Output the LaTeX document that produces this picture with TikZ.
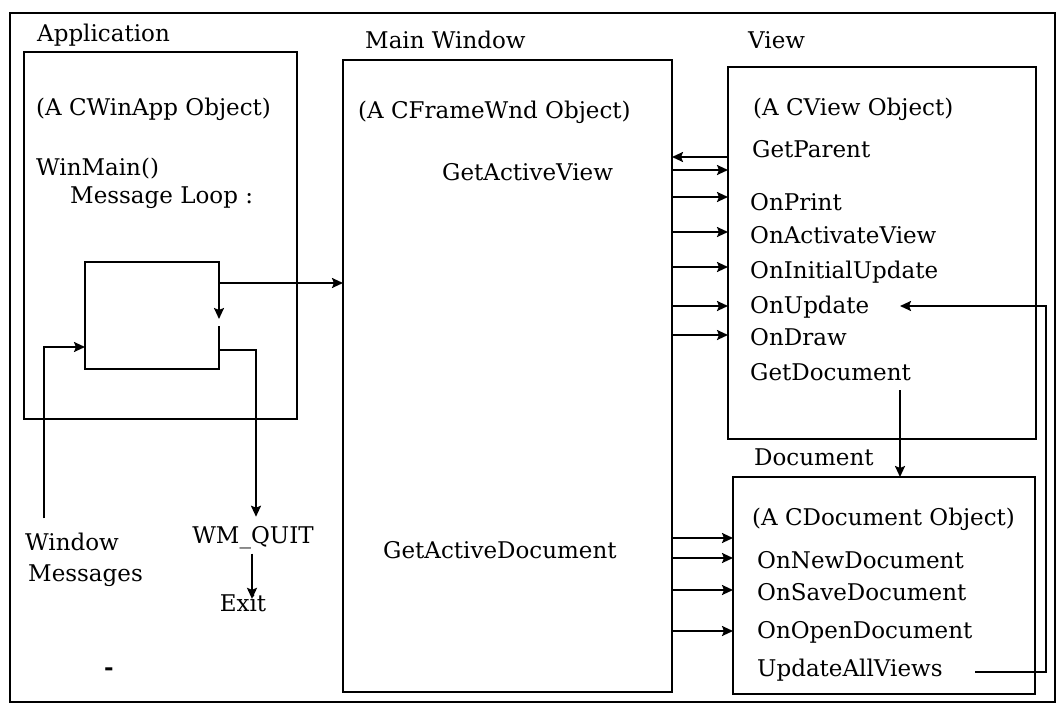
\documentclass[tikz,border=0pt]{standalone}
\usepackage{fontspec}
\setmainfont{DejaVu Serif}
\usetikzlibrary{arrows.meta,calc}
\begin{document}
\begin{tikzpicture}[x=1pt,y=-1pt,
  ln/.style={line width=2.1pt},
  arr/.style={ln,-{Stealth[length=11pt,width=10pt,inset=2pt]}},
  box/.style={draw,line width=2.1pt,inner sep=0pt,outer sep=0pt,anchor=north west},
  hollow/.style={inner sep=0pt,outer sep=0pt,anchor=north west},
  txt/.style={inner sep=0pt,anchor=base west,font=\fontsize{23}{27}\selectfont},
  ctxt/.style={txt,anchor=base}]
\useasboundingbox (0,0) rectangle (1058,707);
% frames
\node[box,minimum width=1045pt,minimum height=689pt] (outer) at (10,13) {};
\node[box,minimum width=273pt,minimum height=367pt] (app) at (24,52) {};
\node[hollow,minimum width=134pt,minimum height=107pt] (loop) at (85,262) {};
\node[box,minimum width=329pt,minimum height=632pt] (main) at (343,60) {};
\node[box,minimum width=308pt,minimum height=372pt] (view) at (728,67) {};
\node[box,minimum width=302pt,minimum height=217pt] (doc) at (733,477) {};
% Application texts
\node[txt] (applbl) at (37,41) {Application};
\node[txt] (appobj) at (36,115) {(A CWinApp Object)};
\node[txt] (winmain) at (36,175) {WinMain()};
\node[txt] (msgloop) at (70,203) {Message Loop :};
\node[txt] (window) at (25,550) {Window};
\node[txt] (messages) at (28,581) {Messages};
\node[ctxt] (wmquit) at (253,543) {WM\_QUIT};
\node[ctxt] (exit) at (243,611) {Exit};
\node[ctxt,font=\fontsize{23}{27}\selectfont\bfseries] (dash) at (109,675) {-};
% Main window texts
\node[txt] (mainlbl) at (365,48) {Main Window};
\node[txt] (mainobj) at (358,118) {(A CFrameWnd Object)};
\node[txt] (gav) at (442,180) {GetActiveView};
\node[txt] (gad) at (383,558) {GetActiveDocument};
% View texts
\node[txt] (viewlbl) at (748,48) {View};
\node[txt] (viewobj) at (753,115) {(A CView Object)};
\node[txt] (getparent) at (752,157) {GetParent};
\node[txt] (onprint) at (750,210) {OnPrint};
\node[txt] (onact) at (750,243) {OnActivateView};
\node[txt] (oninit) at (750,278) {OnInitialUpdate};
\node[txt] (onupd) at (750,313) {OnUpdate};
\node[txt] (ondraw) at (750,345) {OnDraw};
\node[txt] (getdoc) at (750,380) {GetDocument};
% Document texts
\node[txt] (doclbl) at (754,465) {Document};
\node[txt] (docobj) at (752,525) {(A CDocument Object)};
\node[txt] (onnew) at (757,568) {OnNewDocument};
\node[txt] (onsave) at (757,600) {OnSaveDocument};
\node[txt] (onopen) at (757,638) {OnOpenDocument};
\node[txt] (uav) at (757,676) {UpdateAllViews};
% message loop box with broken right edge
\coordinate (lpo) at ([yshift=-21pt]loop.north east);
\coordinate (gapTop) at ([yshift=-57pt]loop.north east);
\coordinate (gapBot) at ([yshift=-64pt]loop.north east);
\coordinate (qStart) at ([yshift=19pt]loop.south east);
\draw[ln] (lpo) -- (loop.north east) -- (loop.north west) -- (loop.south west) -- (loop.south east) -- (gapBot);
\draw[arr] (lpo) -- (gapTop);
\draw[arr] (lpo) -- (lpo -| main.west);
\draw[arr] (qStart) -| ([xshift=3pt,yshift=9pt]wmquit.north);
\draw[arr] ([xshift=-1pt,yshift=-5pt]wmquit.south) -- ([xshift=-1pt,yshift=-5pt]wmquit.south |- exit.north);
\draw[arr] ([xshift=19pt,yshift=14pt]window.north west) |- ([yshift=22pt]loop.south west);
% main <-> view
\draw[arr] ([yshift=-90pt]view.north west) -- ([yshift=-90pt]view.north west -| main.east);
\foreach \yy in {110,137,172,207,246,275}
  \draw[arr] ([yshift=-\yy pt]main.north east) -- ([yshift=-\yy pt]main.north east -| view.west);
% main -> doc
\foreach \yy in {478,498,530,571}
  \draw[arr] ([yshift=-\yy pt]main.north east) -- ([yshift=-\yy pt]main.north east -| doc.west);
% view -> doc
\draw[arr] ([xshift=167pt,yshift=87pt]doc.north west) -- ([xshift=167pt]doc.north west);
% UpdateAllViews feedback
\coordinate (fbA) at ([xshift=-60pt,yshift=22pt]doc.south east);
\coordinate (fbB) at ([xshift=11pt]doc.south east);
\coordinate (fbTip) at ([xshift=-136pt,yshift=-239pt]view.north east);
\draw[arr] (fbA) -- (fbA -| fbB) |- (fbTip);
\end{tikzpicture}
\end{document}
